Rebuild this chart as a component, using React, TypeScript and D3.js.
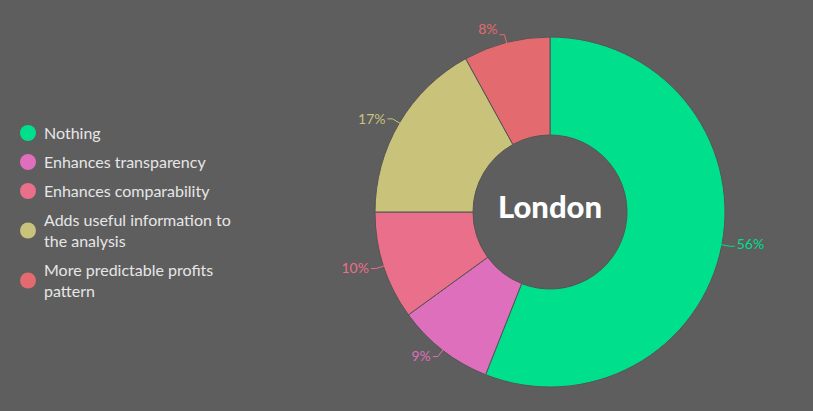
import * as d3 from 'd3'
import { useEffect, useRef } from 'react'

const categories = [
  'Nothing',
  'Enhances transparency',
  'Enhances comparability',
  'Adds useful information to the analysis',
  'More predictable profits pattern',
]
const legendLines = [
  ['Nothing'],
  ['Enhances transparency'],
  ['Enhances comparability'],
  ['Adds useful information to', 'the analysis'],
  ['More predictable profits', 'pattern'],
]
const values = [56, 9, 10, 17, 8]
const colors = ['#00df8c', '#de6fbc', '#ea6f8a', '#c8c27b', '#e36b70']
const title = 'London'

const W = 813
const H = 411
const BG = '#5e5e5e'

export default function App() {
  const ref = useRef<SVGSVGElement | null>(null)

  useEffect(() => {
    const svgEl = ref.current
    if (!svgEl) return
    const svg = d3.select(svgEl)
    svg.selectAll('*').remove()

    svg.append('rect').attr('width', W).attr('height', H).attr('fill', BG)

    const cx = 550
    const cy = 212
    const rOuter = 175
    const rInner = 77

    const pie = d3
      .pie<number>()
      .sort(null)
      .value((d) => d)
    const arcs = pie(values)
    const arc = d3.arc<d3.PieArcDatum<number>>().innerRadius(rInner).outerRadius(rOuter)

    const g = svg.append('g').attr('transform', `translate(${cx},${cy})`)
    g.selectAll('path.slice')
      .data(arcs)
      .join('path')
      .attr('class', 'slice')
      .attr('d', arc)
      .attr('fill', (_, i) => colors[i])
      .attr('stroke', '#555')
      .attr('stroke-width', 1)

    const total = d3.sum(values)
    arcs.forEach((a, i) => {
      const mid = (a.startAngle + a.endAngle) / 2
      const dx = Math.sin(mid)
      const dy = -Math.cos(mid)
      const right = dx >= 0
      const p0 = [dx * (rOuter - 2), dy * (rOuter - 2)]
      const p1 = [dx * (rOuter + 8), dy * (rOuter + 8)]
      const p2 = [p1[0] + (right ? 5 : -5), p1[1]]
      g.append('polyline')
        .attr('points', [p0, p1, p2].map((p) => p.join(',')).join(' '))
        .attr('fill', 'none')
        .attr('stroke', colors[i])
        .attr('stroke-width', 1)
      g.append('text')
        .attr('x', p2[0] + (right ? 2 : -2))
        .attr('y', p2[1] + (dy < -0.9 ? -6 : 0) + (right ? -2 : 0))
        .attr('dy', '0.35em')
        .attr('text-anchor', right ? 'start' : 'end')
        .attr('fill', colors[i])
        .attr('font-family', 'Lato, sans-serif')
        .attr('font-size', 14)
        .text(`${Math.round((a.data / total) * 100)}%`)
    })

    g.append('text')
      .attr('x', 0)
      .attr('y', -5)
      .attr('dy', '0.35em')
      .attr('text-anchor', 'middle')
      .attr('fill', '#ffffff')
      .attr('font-family', 'Lato, sans-serif')
      .attr('font-weight', 900)
      .attr('font-size', 31)
      .text(title)

    const legend = svg.append('g').attr('class', 'legend')
    let y = 133
    categories.forEach((c, i) => {
      const lines = legendLines[i]
      const h = (lines.length - 1) * 21
      const item = legend.append('g').attr('data-cat', c)
      item
        .append('circle')
        .attr('cx', 28)
        .attr('cy', y + h / 2)
        .attr('r', 8)
        .attr('fill', colors[i])
      lines.forEach((l, j) => {
        item
          .append('text')
          .attr('x', 44)
          .attr('y', y + j * 21)
          .attr('dy', '0.35em')
          .attr('fill', '#e6e6e6')
          .attr('font-family', 'Lato, sans-serif')
          .attr('font-size', 16)
          .text(l)
      })
      y += h + 29
    })
  }, [])

  return (
    <svg
      ref={ref}
      width={W}
      height={H}
      style={{ position: 'absolute', left: 0, top: 0, display: 'block' }}
    />
  )
}
